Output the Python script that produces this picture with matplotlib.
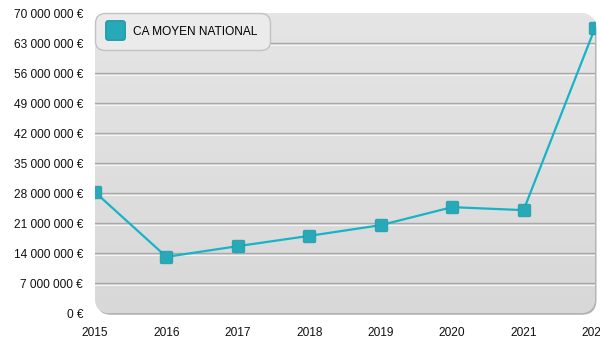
import numpy as np
import matplotlib
matplotlib.use("Agg")
import matplotlib.pyplot as plt
from matplotlib.patches import FancyBboxPatch
from matplotlib.lines import Line2D
from matplotlib.path import Path
from matplotlib.ticker import FuncFormatter

plt.rcParams['font.family'] = ['Liberation Sans', 'DejaVu Sans']

years = [2015, 2016, 2017, 2018, 2019, 2020, 2021, 2022]
ca_moyen = [28.2e6, 13.1e6, 15.6e6, 18.0e6, 20.5e6, 24.7e6, 24.0e6, 66.5e6]
y_ticks = np.arange(0, 70e6 + 1, 7e6)
series_label = "CA MOYEN NATIONAL"
line_color = "#17b3c6"
marker_face = "#27a9b7"
marker_edge = "#2199a8"


def euro(v, pos):
    return f"{int(v):,}".replace(",", " ") + " €"


def rounded_square(r=0.25, n=6):
    # square marker with rounded corners
    pts = []
    corners = [(1, 1, 0), (-1, 1, 90), (-1, -1, 180), (1, -1, 270)]
    for cx, cy, a0 in corners:
        ox, oy = cx * (1 - r), cy * (1 - r)
        for t in np.linspace(np.radians(a0), np.radians(a0 + 90), n):
            pts.append((ox + r * np.cos(t), oy + r * np.sin(t)))
    pts.append(pts[0])
    codes = [Path.MOVETO] + [Path.LINETO] * (len(pts) - 2) + [Path.CLOSEPOLY]
    return Path(pts, codes)


rsq = rounded_square()

fig = plt.figure(figsize=(6, 3.5), dpi=100)
ax = fig.add_axes([95 / 600, 37 / 350, 500 / 600, 300 / 350])
ax.set_xlim(years[0], years[-1])
ax.set_ylim(0, 70e6)

# rounded background with a soft shadow on bottom/right
shadow = FancyBboxPatch((0.003, -0.006), 1.0, 1.0, boxstyle="round,pad=0,rounding_size=0.03",
                        transform=ax.transAxes, facecolor="#b4b4b4", edgecolor="none",
                        mutation_aspect=500 / 300, zorder=0, clip_on=False)
ax.add_patch(shadow)
bg = FancyBboxPatch((0, 0), 1.0, 1.0, boxstyle="round,pad=0,rounding_size=0.03",
                    transform=ax.transAxes, facecolor="#e0e0e0", edgecolor="none",
                    mutation_aspect=500 / 300, zorder=0.1, clip_on=False)
ax.add_patch(bg)
grad = np.linspace(0, 1, 100).reshape(-1, 1)
im = ax.imshow(grad, extent=[0, 1, 0, 1], transform=ax.transAxes, aspect="auto",
               cmap=matplotlib.colors.LinearSegmentedColormap.from_list("g", ["#e5e5e5", "#d8d8d8"]),
               zorder=0.2)
im.set_clip_path(bg)

for s in ax.spines.values():
    s.set_visible(False)
ax.set_facecolor("none")

# embossed grid lines
for v in y_ticks[1:-1]:
    ax.axhline(v, color="#a8a8a8", lw=1.0, zorder=1)
    ax.axhline(v - 0.35e6, color="#f4f4f4", lw=0.8, zorder=1)

ax.plot(years, ca_moyen, color=line_color, lw=1.6, zorder=3)
ax.plot(years, ca_moyen, ls="none", marker=rsq, markersize=9,
        markerfacecolor=marker_face, markeredgecolor=marker_edge, markeredgewidth=0.6, zorder=4)

ax.set_yticks(y_ticks)
ax.yaxis.set_major_formatter(FuncFormatter(euro))
ax.set_xticks(years)
ax.set_xticklabels([str(y) for y in years])
ax.tick_params(axis="both", length=0, labelsize=8.6, colors="#111111")
ax.tick_params(axis="y", pad=8.6)
ax.tick_params(axis="x", pad=10)

handle = Line2D([], [], ls="none", marker=rsq, markersize=14,
                markerfacecolor=marker_face, markeredgecolor=marker_edge)
leg = ax.legend([handle], [series_label], loc="upper left", bbox_to_anchor=(0, 1.0),
                fontsize=8.6, frameon=True, fancybox=True, borderpad=1.05,
                handletextpad=0.9, handlelength=1.2, borderaxespad=0)
frame = leg.get_frame()
frame.set_facecolor("#ebebeb")
frame.set_edgecolor("#c2c2c2")
frame.set_alpha(1)
frame.set_boxstyle("round,pad=0,rounding_size=0.8")

fig.savefig("out.png", dpi=100)
